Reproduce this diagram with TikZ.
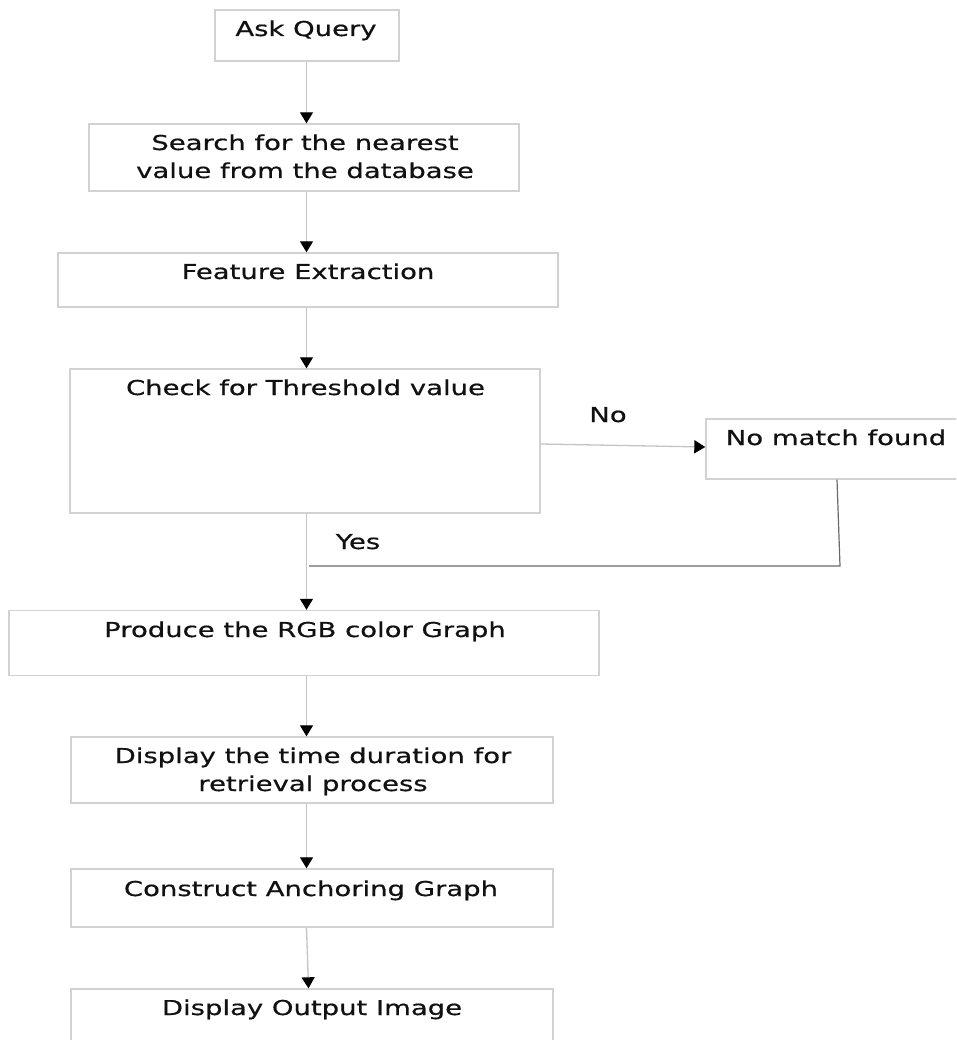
\documentclass[tikz,border=0pt]{standalone}
\usepackage{fontspec}
\setmainfont{DejaVu Sans}[FakeStretch=1.34, FakeBold=0.6]
\usetikzlibrary{arrows.meta}
\definecolor{boxline}{HTML}{D2D2D2}
\definecolor{flowline}{HTML}{C4C4C4}
\definecolor{loopline}{HTML}{6A6A6A}
\definecolor{ink}{HTML}{111111}
\tikzset{
  box/.style={draw=boxline, line width=1.4pt, rectangle, inner sep=0pt, fill=white},
  lbl/.style={text=ink, inner sep=0pt, align=center, font=\fontsize{20.5pt}{28pt}\selectfont},
  conn/.style={draw=flowline, line width=1.3pt, -{Triangle[width=13pt,length=11pt,color=black]}},
  backline/.style={draw=loopline, line width=1.2pt}
}
\begin{document}
\begin{tikzpicture}[x=1pt, y=-1pt]
\useasboundingbox (0,0) rectangle (956,1040);
\clip (0,0) rectangle (956,1040);
\fill[white] (0,0) rectangle (956,1040);

% process boxes
\node[box, minimum width=184pt, minimum height=51pt] (ask) at (307,35.5) {};
\node[box, minimum width=430pt, minimum height=67pt] (search) at (304,157.5) {};
\node[box, minimum width=500pt, minimum height=54pt] (fe) at (308,280) {};
\node[box, minimum width=470pt, minimum height=144pt] (check) at (305,441) {};
\node[box, minimum width=260pt, minimum height=60pt] (nmf) at (836,449) {};
\node[box, minimum width=590pt, minimum height=65pt] (produce) at (304,643) {};
\node[box, minimum width=482pt, minimum height=66pt] (display) at (312,770) {};
\node[box, minimum width=482pt, minimum height=58pt] (construct) at (312,898) {};
\node[box, minimum width=482pt, minimum height=60pt] (output) at (312,1019) {};

% box texts (base = baseline of the last line)
\node[lbl, anchor=base] (askT) at (306,36) {Ask Query};
\node[lbl, anchor=base] (searchT) at (305,178) {Search for the nearest\\value from the database};
\node[lbl, anchor=base] (feT) at (308,279) {Feature Extraction};
\node[lbl, anchor=base] (checkT) at (305.5,395) {Check for Threshold value};
\node[lbl, anchor=base] (nmfT) at (836,445) {No match found};
\node[lbl, anchor=base] (produceT) at (305,637) {Produce the RGB color Graph};
\node[lbl, anchor=base] (displayT) at (313,791) {Display the time duration for\\retrieval process};
\node[lbl, anchor=base] (constructT) at (311,896) {Construct Anchoring Graph};
\node[lbl, anchor=base] (outputT) at (312,1015) {Display Output Image};

% branch labels
\node[lbl, anchor=base] (noT) at (608,422) {No};
\node[lbl, anchor=base] (yesT) at (358,549) {Yes};

% main flow
\coordinate (spine) at (306.5,0);
\draw[conn] (spine |- ask.south) -- (spine |- search.north);
\draw[conn] (spine |- search.south) -- (spine |- fe.north);
\draw[conn] (spine |- fe.south) -- (spine |- check.north);
\draw[conn] (spine |- check.south) -- (spine |- produce.north);
\draw[conn] (spine |- produce.south) -- (spine |- display.north);
\draw[conn] (spine |- display.south) -- (spine |- construct.north);
\draw[conn] (spine |- construct.south) -- ([xshift=2pt]spine |- output.north);

% "No" branch and return line
\draw[conn] ([yshift=-3pt]check.east) -- ([yshift=2pt]nmf.west);
\coordinate (loopc) at (840,566);
\coordinate (loopend) at (309,566);
\draw[backline] ([xshift=1pt]nmf.south) -- (loopc) -- (loopend);
\end{tikzpicture}
\end{document}
